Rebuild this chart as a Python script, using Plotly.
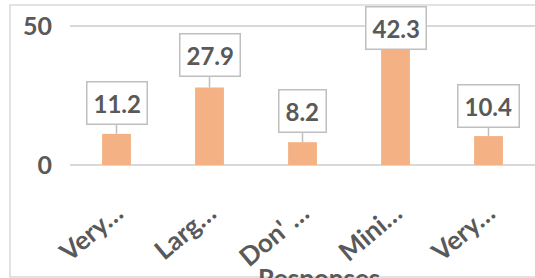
import plotly.graph_objects as go

categories = ["Very…", "Larg…", "Don' …", "Mini…", "Very…"]
cat_ids = ["c1", "c2", "c3", "c4", "c5"]
values = [11.2, 27.9, 8.2, 42.3, 10.4]
value_labels = ["11.2", "27.9", "8.2", "42.3", "10.4"]
y_ticks = [0, 50]
axis_title = "Responses"

BAR = "#F4B183"
TXT = "#595959"
GRID = "#D9D9D9"
BOX = "#BFBFBF"
FONT = "Lato"

W, H = 535, 278
ML, MR, MT, MB = 70, 0, 20, 113
PH = H - MT - MB
PW = W - ML - MR
ZERO_Y = H - MB          # pixel row of zero line
TOP_TICK_Y = 26          # pixel row of the 50 gridline
y_max = y_ticks[-1] * PH / (ZERO_Y - TOP_TICK_Y)

fig = go.Figure()
fig.add_trace(go.Bar(
    x=cat_ids, y=values, marker=dict(color=BAR, line=dict(width=0)),
    width=0.31, hoverinfo="skip",
))

callout_offsets = [-31, -32, -31, -19, -30]
for cid, v, lab, ay in zip(cat_ids, values, value_labels, callout_offsets):
    fig.add_annotation(
        x=cid, y=v, text=f"<b>{lab}</b>", showarrow=True, ax=0, ay=ay,
        arrowhead=0, arrowwidth=1.5, arrowcolor=BOX, standoff=0,
        bgcolor="white", bordercolor=BOX, borderwidth=1.5, borderpad=6,
        font=dict(family=FONT, size=24, color=TXT),
    )

fig.add_annotation(
    xref="paper", yref="paper", x=(319 - ML) / PW, y=-(260 - ZERO_Y) / PH,
    xanchor="center", yanchor="top", showarrow=False,
    text=f"<b>{axis_title}</b>", font=dict(family=FONT, size=26, color=TXT),
)

# chart frame
fig.add_shape(
    type="rect", xref="paper", yref="paper",
    x0=-(ML - 10) / PW, x1=1.02,
    y0=-(277 - ZERO_Y) / PH, y1=1 + (MT - 5) / PH,
    line=dict(color=GRID, width=1.5), fillcolor="rgba(0,0,0,0)", layer="below",
)

fig.update_layout(
    width=W, height=H, margin=dict(l=ML, r=MR, t=MT, b=MB, autoexpand=False),
    paper_bgcolor="white", plot_bgcolor="white", showlegend=False,
    font=dict(family=FONT, color=TXT),
    xaxis=dict(
        tickmode="array", tickvals=cat_ids,
        ticktext=[f"<b>{c}</b>" for c in categories],
        tickangle=-40, tickfont=dict(family=FONT, size=26, color=TXT),
        showgrid=False, showline=False, zeroline=False, ticks="",
        ticklabelstandoff=27, automargin=False,
    ),
    yaxis=dict(
        range=[0, y_max], tickmode="array", tickvals=y_ticks,
        ticktext=[f"<b>{t}</b>" for t in y_ticks],
        tickfont=dict(family=FONT, size=25, color=TXT),
        showgrid=True, gridcolor=GRID, gridwidth=1.5,
        zeroline=True, zerolinecolor=GRID, zerolinewidth=1.5,
        showline=False, ticks="", ticklabelstandoff=17, automargin=False,
    ),
)

fig.write_html(
    "out.html",
    config={"displayModeBar": False, "staticPlot": True},
    post_script="document.body.style.margin='0';document.body.style.overflow='hidden';",
)
